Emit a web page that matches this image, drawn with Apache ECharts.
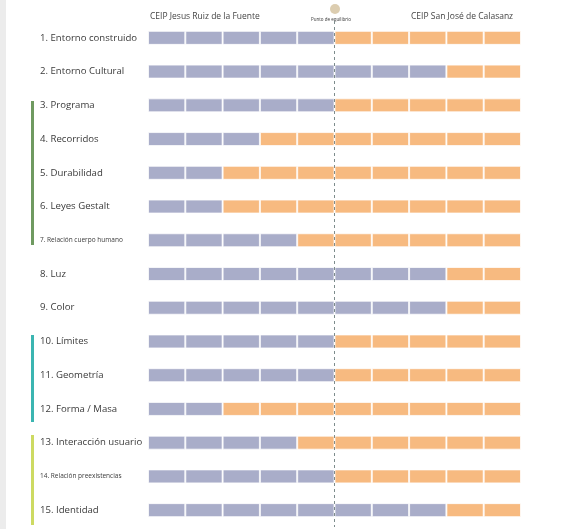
<!DOCTYPE html>
<html><head><meta charset="utf-8">
<script src="https://cdn.jsdelivr.net/npm/echarts@6/dist/echarts.min.js"></script>
<style>html,body{margin:0;padding:0;background:#fff}#c{width:579px;height:529px}</style>
</head><body><div id="c"></div>
<script>
const categories = ['1. Entorno construido','2. Entorno Cultural','3. Programa','4. Recorridos','5. Durabilidad','6. Leyes Gestalt','7. Relación cuerpo humano','8. Luz','9. Color','10. Límites','11. Geometría','12. Forma / Masa','13. Interacción usuario','14. Relación preexistencias','15. Identidad'];
const blueCells = [5,8,5,3,2,2,4,8,8,5,5,2,4,5,8];
const totalCells = 10;
const leftLabel = 'CEIP Jesus Ruiz de la Fuente';
const rightLabel = 'CEIP San José de Calasanz';
const centerLabel = 'Punto de equilibrio';
const smallLabels = [6, 13];

const BLUE = '#a9adc9', ORANGE = '#f7ba80';
const FONT = 'Open Sans';
const series = [];
for (let k = 0; k < totalCells; k++) {
  series.push({
    type: 'bar', stack: 's', barWidth: 14, silent: true,
    data: blueCells.map(b => ({value: 1, itemStyle: {color: k < b ? BLUE : ORANGE}})),
    itemStyle: {borderColor: 'rgba(255,255,255,0.75)', borderWidth: 1},
    markLine: k === 0 ? {
      silent: true, symbol: 'none', label: {show: false},
      lineStyle: {color: '#7d8c8c', type: [3, 3], width: 1},
      data: [{xAxis: totalCells / 2}]
    } : undefined
  });
}
const chart = echarts.init(document.getElementById('c'));
chart.setOption({
  animation: false,
  grid: {left: 148, right: 58, top: 21, bottom: 2},
  xAxis: {type: 'value', min: 0, max: totalCells, show: false},
  yAxis: {
    type: 'category', data: categories, inverse: true,
    axisLine: {show: false}, axisTick: {show: false},
    axisLabel: {
      align: 'left', margin: 108, color: '#3a3a3a', fontFamily: FONT, fontSize: 9.6,
      formatter: (v, i) => smallLabels.includes(i) ? '{s|' + v + '}' : v,
      rich: {s: {fontSize: 6.5, color: '#3a3a3a', fontFamily: FONT}}
    }
  },
  series: series,
  graphic: [
    {type: 'rect', shape: {x: 0, y: 0, width: 6, height: 529}, style: {fill: '#ececec'}},
    {type: 'rect', shape: {x: 31, y: 101, width: 3, height: 144}, style: {fill: '#6f9a60'}},
    {type: 'rect', shape: {x: 31, y: 335, width: 3, height: 87}, style: {fill: '#3bb5b1'}},
    {type: 'rect', shape: {x: 31, y: 435, width: 3, height: 90}, style: {fill: '#cdda62'}},
    {type: 'circle', shape: {cx: 335, cy: 9, r: 5}, style: {fill: '#dccdb0'}},
    {type: 'text', left: 150, top: 12, style: {text: leftLabel, fontSize: 8.5, fill: '#444', fontFamily: FONT}},
    {type: 'text', left: 311, top: 17, style: {text: centerLabel, fontSize: 4.5, fill: '#333', fontFamily: FONT}},
    {type: 'text', left: 411, top: 12, style: {text: rightLabel, fontSize: 8.5, fill: '#444', fontFamily: FONT}}
  ]
});
</script></body></html>
